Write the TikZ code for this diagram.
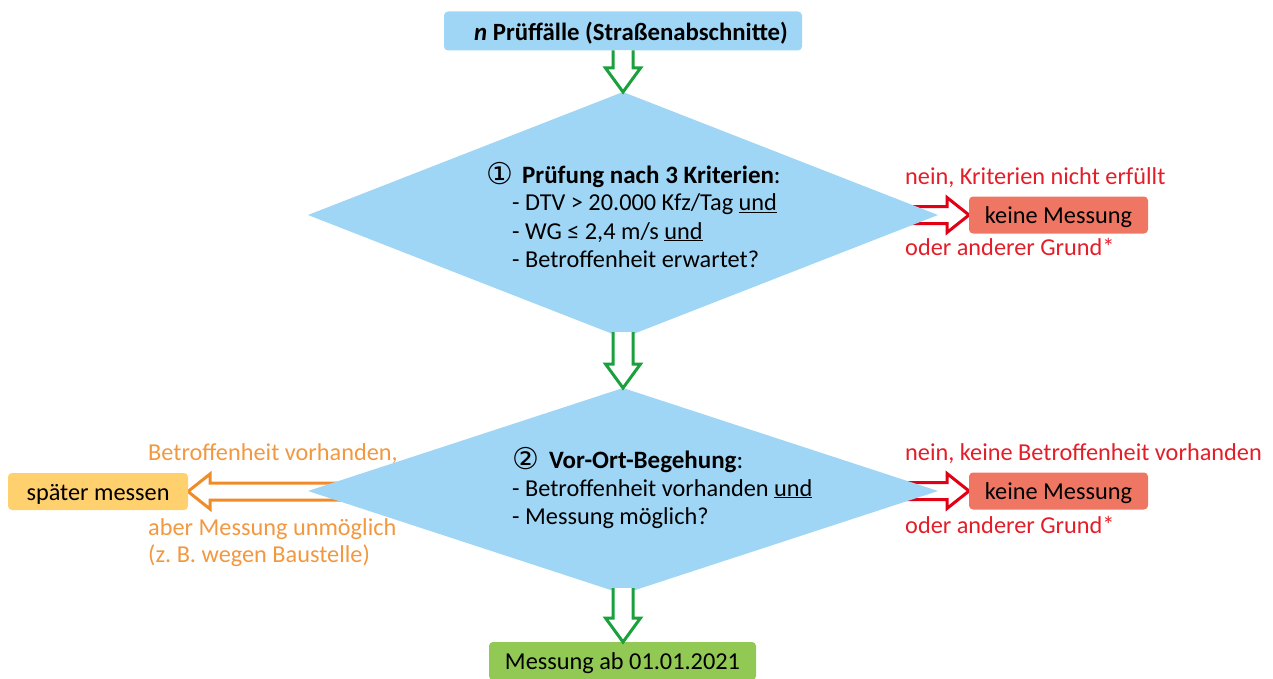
\documentclass[tikz,border=0pt]{standalone}
\usepackage{fontspec}
\setmainfont{Carlito}
\newfontfamily\symf{DejaVu Sans}
\frenchspacing
\usetikzlibrary{shapes.geometric,calc,backgrounds}
\definecolor{dblue}{RGB}{160,214,245}
\definecolor{salmon}{RGB}{238,118,98}
\definecolor{yel}{RGB}{255,208,110}
\definecolor{grn}{RGB}{146,200,84}
\definecolor{garrc}{RGB}{26,160,60}
\definecolor{rtxtc}{RGB}{228,30,40}
\definecolor{rarrc}{RGB}{225,0,20}
\definecolor{otxtc}{RGB}{242,152,64}
\definecolor{oarrc}{RGB}{240,140,40}
\newcommand\varrow[3]{\draw[#3] ($(#1)+(-10,0)$) -- ($(#2)+(-10,-24)$) -- ($(#2)+(-17.5,-24)$) -- (#2) -- ($(#2)+(17.5,-24)$) -- ($(#2)+(10,-24)$) -- ($(#1)+(10,0)$);}
\newcommand\harrow[4]{\draw[#4] ($(#2)+(0,-8.5)$) -- ($(#3)+({-22*#1},-8.5)$) -- ($(#3)+({-22*#1},-17.5)$) -- (#3) -- ($(#3)+({-22*#1},17.5)$) -- ($(#3)+({-22*#1},8.5)$) -- ($(#2)+(0,8.5)$);}
\newcommand\circnum[1]{\raisebox{-1.5pt}{\symf\fontsize{30}{30}\selectfont #1}}
\begin{document}
\begin{tikzpicture}[x=1pt,y=-1pt,
  font=\fontsize{24.3}{28}\selectfont,
  diam/.style={shape=diamond, fill=dblue, draw=none, inner sep=0pt, outer sep=0pt, minimum width=630pt},
  txt/.style={anchor=base west, inner sep=0pt, text=black},
  head/.style={anchor=base west, inner sep=0pt, text=black, font=\fontsize{25}{28}\selectfont},
  rtxt/.style={anchor=base west, inner sep=0pt, text=rtxtc},
  otxt/.style={anchor=base west, inner sep=0pt, text=otxtc},
  box/.style={rectangle, rounded corners=4pt, draw=none, inner sep=0pt, outer sep=0pt, text height=17pt, text depth=0pt, text=black},
  garr/.style={draw=garrc, fill=white, line width=3pt, line join=miter},
  rarr/.style={draw=rarrc, fill=white, line width=3pt, line join=miter},
  oarr/.style={draw=oarrc, fill=white, line width=3pt, line join=miter}]
\useasboundingbox (0,0) rectangle (1273,679);
% boxes
\node[box, fill=dblue, minimum width=358pt, minimum height=39pt, text height=19pt, font=\fontsize{24.8}{28}\selectfont] (top) at (623,31) {\hspace*{16pt}\textbf{\textit{n} Prüffälle (Straßenabschnitte)}};
\node[diam, minimum height=246pt] (d1) at (623,215) {};
\node[diam, minimum height=206pt] (d2) at (623,491) {};
\node[box, fill=salmon, minimum width=179pt, minimum height=37pt] (k1) at (1058.5,215) {keine Messung};
\node[box, fill=salmon, minimum width=179pt, minimum height=37pt] (k2) at (1058.5,491) {keine Messung};
\node[box, fill=yel, minimum width=180pt, minimum height=37pt] (sp) at (98,491.5) {später messen};
\node[box, fill=grn, minimum width=267pt, minimum height=38pt, anchor=north] (ms) at (622.5,642) {Messung ab 01.01.2021};
% diamond texts
\node[head] (d1a) at (486,183) {\circnum{①}\hspace{9pt}\textbf{Prüfung nach 3 Kriterien}:};
\node[txt] (d1b) at (512,211) {- DTV > 20.000 Kfz/Tag \underline{und}};
\node[txt] (d1c) at (512,239) {- WG ≤ 2,4 m/s \underline{und}};
\node[txt] (d1d) at (512,267) {- Betroffenheit erwartet?};
\node[head] (d2a) at (512,468) {\circnum{②}\hspace{10pt}\textbf{Vor-Ort-Begehung}:};
\node[txt] (d2b) at (512,496) {- Betroffenheit vorhanden \underline{und}};
\node[txt] (d2c) at (512,524) {- Messung möglich?};
% side labels
\node[rtxt] (n1) at (905,185) {nein, Kriterien nicht erfüllt};
\node[rtxt] (o1) at (905,255) {oder anderer Grund*};
\node[rtxt] (n2) at (905,460) {nein, keine Betroffenheit vorhanden};
\node[rtxt] (o2) at (905,533) {oder anderer Grund*};
\node[otxt] (b1) at (148,460) {Betroffenheit vorhanden,};
\node[otxt] (b2) at (148,535) {aber Messung unmöglich};
\node[otxt] (b3) at (148,562) {(z. B. wegen Baustelle)};
% helper coordinates
\coordinate (s1) at (d1.north |- top.south);
\coordinate (s2) at ($(d1.south)+(0,-6)$);
\coordinate (s3) at ($(d2.south)+(0,-6)$);
\coordinate (t3) at (d2.south |- ms.north);
\coordinate (r1) at ($(k1.west)+(-80,0)$);
\coordinate (r2) at ($(k2.west)+(-80,0)$);
\coordinate (l1) at ($(sp.east)+(160,0)$);
\begin{scope}[on background layer]
\harrow{1}{r1}{k1.west}{rarr}
\harrow{1}{r2}{k2.west}{rarr}
\harrow{-1}{l1}{sp.east}{oarr}
\end{scope}
\varrow{s1}{d1.north}{garr}
\varrow{s2}{d2.north}{garr}
\varrow{s3}{t3}{garr}
\end{tikzpicture}
\end{document}
